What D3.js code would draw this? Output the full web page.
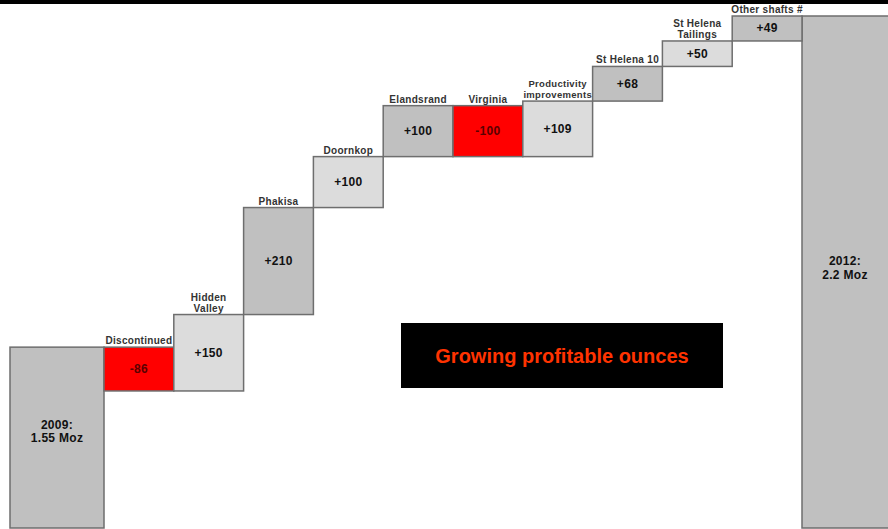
<!DOCTYPE html>
<html>
<head>
<meta charset="utf-8">
<script src="https://cdn.jsdelivr.net/npm/d3@7"></script>
<style>
  body { margin: 0; background: #fff; }
  svg { display: block; font-family: Arial, "Liberation Sans", sans-serif; }
</style>
</head>
<body>
<div id="chart"></div>
<script>
// waterfall: production bridge 2009 -> 2012 (koz)

// data
var startLabel = ['2009:', '1.55 Moz'];
var endLabel = ['2012:', '2.2 Moz'];
var startValue = 1550;
var steps = ['Discontinued', 'Hidden|Valley', 'Phakisa', 'Doornkop', 'Elandsrand', 'Virginia',
             'Productivity|improvements', 'St Helena 10', 'St Helena|Tailings', 'Other shafts #'];
var deltas = [-86, 150, 210, 100, 100, -100, 109, 68, 50, 49];
var title = 'Growing profitable ounces';

var width = 888, height = 529;

var svg = d3.select('#chart').append('svg')
  .attr('width', width)
  .attr('height', height);

// running totals
var running = startValue;
var bars = steps.map(function(name, i) {
  var from = running;
  running += deltas[i];
  return { name: name, value: deltas[i], from: from, to: running };
});
var endValue = running;

// scales
var x = d3.scaleBand()
  .domain(steps)
  .range([104, 802])
  .paddingInner(0)
  .paddingOuter(0);

// axis is broken: bottom of the page sits at ~1195 koz
var y = d3.scaleLinear()
  .domain([1195, endValue])
  .range([528, 16]);

var totalWidthL = 94, totalWidthR = 96;
var dark = '#c0c0c0', light = '#dcdcdc', neg = '#ff0000', edge = '#6e6e6e';

// top black rule
svg.append('rect')
  .attr('x', 0).attr('y', 0)
  .attr('width', width).attr('height', 4)
  .attr('fill', '#000');

// start total
svg.append('rect')
  .attr('x', x.range()[0] - totalWidthL)
  .attr('y', y(startValue))
  .attr('width', totalWidthL)
  .attr('height', y.range()[0] - y(startValue))
  .attr('fill', dark)
  .attr('stroke', edge)
  .attr('stroke-width', 1.5);

// end total
svg.append('rect')
  .attr('x', x.range()[1])
  .attr('y', y(endValue))
  .attr('width', totalWidthR)
  .attr('height', y.range()[0] - y(endValue))
  .attr('fill', dark)
  .attr('stroke', edge)
  .attr('stroke-width', 1.5);

// totals labels
function totalText(lines, cx, cy) {
  var t = svg.append('text')
    .attr('text-anchor', 'middle')
    .attr('font-size', 12)
    .attr('font-weight', 'bold')
    .attr('letter-spacing', 0.3)
    .attr('fill', '#111');
  lines.forEach(function(l, i) {
    t.append('tspan')
      .attr('x', cx)
      .attr('y', cy + (i - (lines.length - 1) / 2) * 13.5 + 4)
      .text(l);
  });
}
totalText(startLabel, x.range()[0] - totalWidthL / 2, (y(startValue) + y.range()[0]) / 2 - 6);
totalText(endLabel, x.range()[1] + 43, (y(endValue) + y.range()[0]) / 2 - 4);

// step bars
var posCount = 0;
bars.forEach(function(d) {
  if (d.value < 0) d.fill = neg;
  else { d.fill = (posCount % 2 === 0) ? light : dark; posCount++; }
});

var g = svg.selectAll('.step')
  .data(bars)
  .enter().append('g')
  .attr('class', 'step');

g.append('rect')
  .attr('x', function(d) { return x(d.name); })
  .attr('y', function(d) { return y(Math.max(d.from, d.to)); })
  .attr('width', x.bandwidth())
  .attr('height', function(d) { return Math.abs(y(d.from) - y(d.to)); })
  .attr('fill', function(d) { return d.fill; })
  .attr('stroke', edge)
  .attr('stroke-width', 1.5);

// value inside
g.append('text')
  .attr('x', function(d) { return x(d.name) + x.bandwidth() / 2; })
  .attr('y', function(d) { return (y(d.from) + y(d.to)) / 2 + 4; })
  .attr('text-anchor', 'middle')
  .attr('font-size', 12)
  .attr('font-weight', 'bold')
  .attr('letter-spacing', 0.3)
  .attr('fill', function(d) { return d.value < 0 ? '#5a0000' : '#111'; })
  .text(function(d) { return (d.value > 0 ? '+' : '') + d.value; });

// category label above
g.append('text')
  .attr('text-anchor', 'middle')
  .attr('font-size', function(d) { return d.name.length > 20 ? 9.5 : 10; })
  .attr('font-weight', 'bold')
  .attr('letter-spacing', 0.3)
  .attr('fill', '#333')
  .each(function(d) {
    var lines = d.name.split('|');
    var top = y(Math.max(d.from, d.to));
    var t = d3.select(this);
    lines.forEach(function(l, i) {
      t.append('tspan')
        .attr('x', x(d.name) + x.bandwidth() / 2)
        .attr('y', top - 3 - (lines.length - 1 - i) * 11)
        .text(l);
    });
  });

// title box
svg.append('rect')
  .attr('x', 401).attr('y', 323)
  .attr('width', 322).attr('height', 65)
  .attr('fill', '#000');

svg.append('text')
  .attr('x', 562).attr('y', 363)
  .attr('text-anchor', 'middle')
  .attr('font-size', 20)
  .attr('font-weight', 'bold')
  .attr('fill', '#ff3300')
  .text(title);
</script>
</body>
</html>
